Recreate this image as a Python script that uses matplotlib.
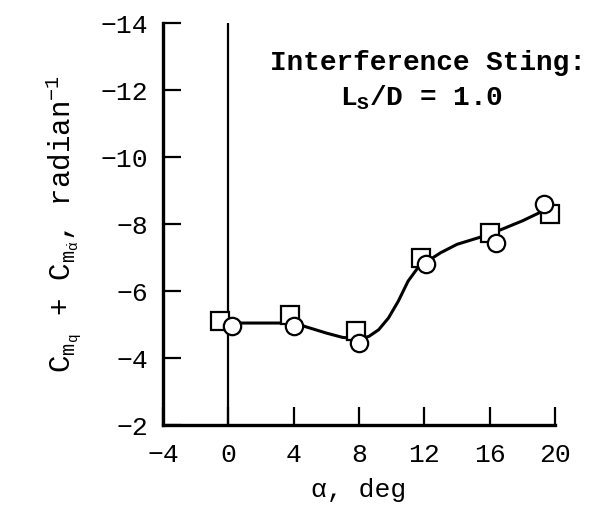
import matplotlib
matplotlib.use("Agg")
import matplotlib.pyplot as plt

plt.rcParams['font.family'] = ['Liberation Mono', 'DejaVu Sans']
plt.rcParams['mathtext.fontset'] = 'custom'
plt.rcParams['mathtext.rm'] = 'Liberation Mono'
plt.rcParams['mathtext.it'] = 'Liberation Mono'
plt.rcParams['mathtext.bf'] = 'Liberation Mono:bold'

# data
square_alpha = [-0.5, 3.8, 7.8, 11.8, 16.0, 19.7]
square_cm = [-5.1, -5.3, -4.8, -7.0, -7.75, -8.3]
circle_alpha = [0.25, 4.0, 8.0, 12.1, 16.4, 19.3]
circle_cm = [-4.95, -4.95, -4.45, -6.8, -7.45, -8.6]
# faired curve
curve_alpha = [0.0, 2.0, 4.0, 5.0, 6.0, 7.0, 8.0, 8.6, 9.2, 9.8, 10.4, 11.0, 11.6,
               12.2, 13.0, 14.0, 15.0, 16.0, 17.0, 18.0, 19.5]
curve_cm = [-5.05, -5.05, -5.05, -4.9, -4.75, -4.62, -4.58, -4.65, -4.85, -5.2, -5.7,
            -6.3, -6.7, -6.9, -7.15, -7.4, -7.55, -7.7, -7.9, -8.1, -8.45]

xticks = [-4, 0, 4, 8, 12, 16, 20]
yticks = [-14, -12, -10, -8, -6, -4, -2]

fig = plt.figure(figsize=(5.93, 5.05), dpi=100)
ax = fig.add_axes([0.275, 0.158, 0.661, 0.796])

ax.axvline(0, color='black', lw=1.6, zorder=1)
ax.plot(curve_alpha, curve_cm, color='black', lw=2.2, zorder=2)
ax.plot(square_alpha, square_cm, ls='none', marker='s', ms=12.5, mfc='white',
        mec='black', mew=1.6, zorder=3, clip_on=False)
ax.plot(circle_alpha, circle_cm, ls='none', marker='o', ms=12.5, mfc='white',
        mec='black', mew=1.6, zorder=4, clip_on=False)

ax.set_xlim(-4, 20)
ax.set_ylim(-2, -14)
ax.set_xticks(xticks)
ax.set_yticks(yticks)
ax.set_xticklabels([f"{t:d}".replace('-', '\u2212') for t in xticks])
ax.set_yticklabels([f"{t:d}".replace('-', '\u2212') for t in yticks])

for s in ['top', 'right']:
    ax.spines[s].set_visible(False)
for s in ['left', 'bottom']:
    ax.spines[s].set_linewidth(2.4)

ax.tick_params(direction='in', length=13, width=1.6, labelsize=19)
ax.tick_params(axis='x', pad=13)
ax.tick_params(axis='y', pad=11)

ax.set_xlabel("α, deg", fontsize=19, labelpad=8)
ax.set_ylabel(r"C$_{\mathrm{m_q}}$ + C$_{\mathrm{m_{\dot{\alpha}}}}$, radian$^{-1}$",
              fontsize=21, labelpad=12)

fig.text(0.722, 0.861, "Interference Sting:", fontsize=20,
         fontweight='bold', ha='center', va='baseline')
fig.text(0.71, 0.792, r"L$_\mathbf{S}$/D = 1.0", fontsize=20,
         fontweight='bold', ha='center', va='baseline')

fig.savefig("out.png", dpi=100)
